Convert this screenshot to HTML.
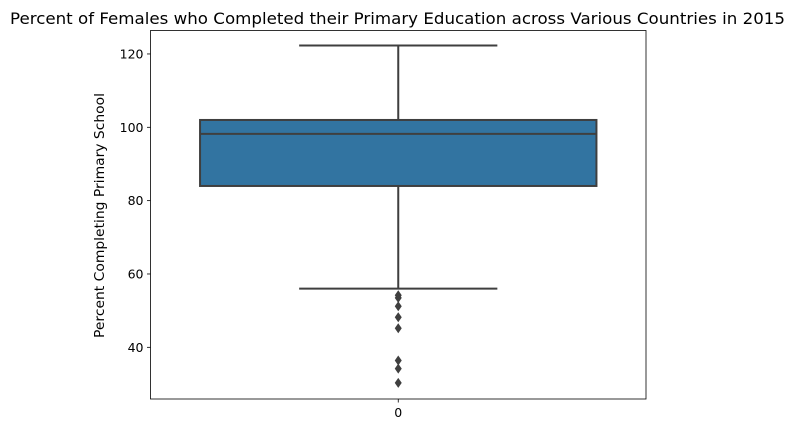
<!DOCTYPE html>
<html><head><meta charset="utf-8"><style>
body{margin:0;background:#fff;width:795px;height:433px;overflow:hidden}
svg{display:block;font-family:"DejaVu Sans","Liberation Sans",sans-serif}
</style></head><body>
<svg id="chart" width="795" height="433">
<text x="397.5" y="24" text-anchor="middle" font-size="16" textLength="775" lengthAdjust="spacingAndGlyphs" fill="#000">Percent of Females who Completed their Primary Education across Various Countries in 2015</text>
<text transform="translate(104,215.5) rotate(-90)" text-anchor="middle" font-size="13" textLength="245" lengthAdjust="spacingAndGlyphs">Percent Completing Primary School</text>
<g id="g"></g>
</svg>
<script>
const categories=["0"];
const yTicks=[40,60,80,100,120];
const q1=[84];const median=[98.2];const q3=[102];
const whiskLow=[56];const whiskHigh=[122.3];
const outliers=[54.2,53.5,51.2,48.2,45.2,36.4,34.2,30.3];
const L=150.5,R=646,T=30.5,B=399;
function y(v){return 127.3+(100-v)*3.667;}
function x(i){return L+(R-L)*(i+0.5)/categories.length;}
const NS="http://www.w3.org/2000/svg",g=document.getElementById('g');
function el(t,a){const e=document.createElementNS(NS,t);for(const k in a)e.setAttribute(k,a[k]);g.appendChild(e);return e;}
yTicks.forEach(v=>{
 const t=el('line',{x1:L-3.5,x2:L,y1:y(v),y2:y(v),stroke:'#000','stroke-width':0.8});
 
 
 const l=el('text',{x:L-7,y:y(v)+4.5,'text-anchor':'end','font-size':12.5});l.textContent=v;
 
 
});
categories.forEach((c,i)=>{
 const cx=x(i),w=(R-L)*0.8/categories.length,cw=w/2,col='#3f3f3f';
 const tk=el('line',{x1:cx,x2:cx,y1:B,y2:B+3.5,stroke:'#000','stroke-width':0.8});
 
 
 const tl=el('text',{x:cx,y:B+18,'text-anchor':'middle','font-size':12.5});tl.textContent=c;
 
 
 const w1=el('line',{x1:cx,x2:cx,y1:y(q3[i]),y2:y(whiskHigh[i]),stroke:col,'stroke-width':2});
 
 
 const w2=el('line',{x1:cx,x2:cx,y1:y(q1[i]),y2:y(whiskLow[i]),stroke:col,'stroke-width':2});
 
 
 const c1=el('line',{x1:cx-cw/2,x2:cx+cw/2,y1:y(whiskHigh[i]),y2:y(whiskHigh[i]),stroke:col,'stroke-width':2});
 
 
 const c2=el('line',{x1:cx-cw/2,x2:cx+cw/2,y1:y(whiskLow[i]),y2:y(whiskLow[i]),stroke:col,'stroke-width':2});
 
 
 const bx=el('rect',{x:cx-w/2,y:y(q3[i]),width:w,height:y(q1[i])-y(q3[i]),fill:'#3274a1',stroke:col,'stroke-width':2});
 
 
 const md=el('line',{x1:cx-w/2,x2:cx+w/2,y1:y(median[i]),y2:y(median[i]),stroke:col,'stroke-width':2});
 
 
 outliers.forEach(v=>{
  const yy=y(v);
  const o=el('polygon',{points:`${cx},${yy-5} ${cx+3.5},${yy} ${cx},${yy+5} ${cx-3.5},${yy}`,fill:col});
  
  
 });
});
const fr=el('rect',{x:L,y:T,width:R-L,height:B-T,fill:'none',stroke:'#000','stroke-width':0.8});


</script>
</body></html>
